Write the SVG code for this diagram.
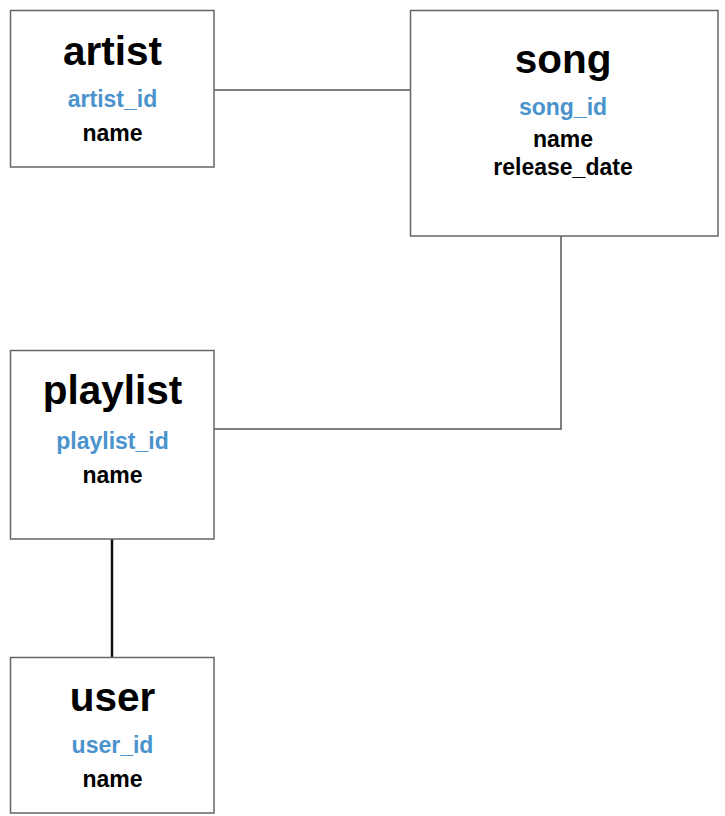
<svg xmlns="http://www.w3.org/2000/svg" width="725" height="816" viewBox="0 0 725 816">
<style>
.box{fill:#ffffff;stroke:#666666;stroke-width:1.5}
.title{font-family:"Liberation Sans",Arial,sans-serif;font-weight:bold;font-size:40.5px;fill:#000000;text-anchor:middle}
.key{font-family:"Liberation Sans",Arial,sans-serif;font-weight:bold;font-size:23px;fill:#4a93cd;text-anchor:middle}
.attr{font-family:"Liberation Sans",Arial,sans-serif;font-weight:bold;font-size:23px;fill:#000000;text-anchor:middle}
.conn{fill:none;stroke:#555555;stroke-width:1.5}
</style>
<rect width="725" height="816" fill="#ffffff"/>
<g id="connectors">
<line class="conn" x1="214" y1="90" x2="410" y2="90"/>
<polyline class="conn" points="561,236 561,429 214,429"/>
<line class="conn" x1="112" y1="539" x2="112" y2="657" style="stroke:#111111;stroke-width:2.5"/>
</g>
<g id="artist">
<rect class="box" x="10.5" y="10.5" width="203.5" height="156.5"/>
<text class="title" x="112.5" y="65">artist</text>
<text class="key" x="112.5" y="107">artist_id</text>
<text class="attr" x="112.5" y="141">name</text>
</g>
<g id="song">
<rect class="box" x="410.5" y="10.5" width="307.5" height="225.5"/>
<text class="title" x="563" y="73">song</text>
<text class="key" x="563" y="115">song_id</text>
<text class="attr" x="563" y="147">name</text>
<text class="attr" x="563" y="175">release_date</text>
</g>
<g id="playlist">
<rect class="box" x="10.5" y="350.5" width="203.5" height="188.5"/>
<text class="title" x="112.5" y="404">playlist</text>
<text class="key" x="112.5" y="449">playlist_id</text>
<text class="attr" x="112.5" y="483">name</text>
</g>
<g id="user">
<rect class="box" x="10.5" y="657.5" width="203.5" height="155.5"/>
<text class="title" x="112.5" y="711">user</text>
<text class="key" x="112.5" y="753">user_id</text>
<text class="attr" x="112.5" y="787">name</text>
</g>
</svg>
